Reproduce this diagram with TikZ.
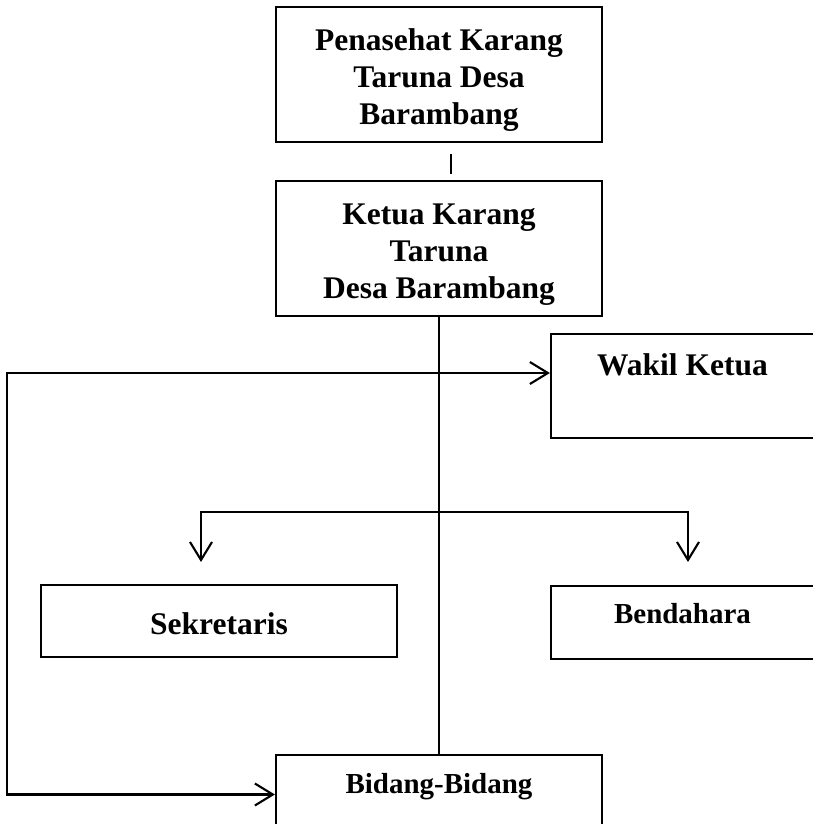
\documentclass[tikz,border=0pt]{standalone}
\usepackage{fontspec}
\setmainfont{Liberation Serif}
\usepackage{tikz}
\usetikzlibrary{arrows.meta, positioning, calc}
\tikzstyle{arrow} = [line width=1.5pt,->,>={Straight Barb[length=0.45cm,width=0.55cm]}]
\tikzstyle{garis} = [line width=1.5pt]
\tikzstyle{jabatan} = [rectangle, draw=black, line width=1.5pt, inner sep=0pt, align=center, font=\bfseries\fontsize{22.4pt}{26.2pt}\selectfont]
\tikzstyle{jabatankecil} = [jabatan, font=\bfseries\fontsize{20.6pt}{24pt}\selectfont]
\newcommand{\naik}{\rule{0pt}{23pt}}

\begin{document}
\begin{tikzpicture}[x=0.025cm, y=-0.025cm]
    \useasboundingbox (0,0) rectangle (812,824);

    % Boxes
    \node[jabatan, minimum width=8.15cm, minimum height=3.375cm] (penasehat) at (439,74.5) {\naik Penasehat Karang\\Taruna Desa\\Barambang};
    \node[jabatan, minimum width=8.15cm, minimum height=3.375cm, below=0.925cm of penasehat] (ketua) {\naik Ketua Karang\\Taruna\\Desa Barambang};
    \node[jabatan, anchor=base, minimum width=6.575cm, text height=1.025cm, text depth=1.575cm] (wakil) at (682.5,375) {Wakil Ketua};
    \node[jabatan, anchor=base, minimum width=8.9cm, text height=1.225cm, text depth=0.575cm] (sekretaris) at (219,634) {Sekretaris};
    \node[jabatankecil, anchor=base, minimum width=6.575cm, text height=0.925cm, text depth=0.9cm] (bendahara) at (682.5,623) {Bendahara};
    \node[jabatankecil, anchor=base, minimum width=8.15cm, text height=0.95cm, text depth=1.025cm] (bidang) at (439,793) {Bidang-Bidang};

    % Free ends
    \coordinate (sudut) at (7,373);
    \coordinate (cabangkiri) at (201,512);
    \coordinate (cabangkanan) at (688,512);
    \coordinate (ujungsek) at (201,562);
    \coordinate (ujungben) at (688,562);

    % Lines
    \draw[garis] ($(penasehat.south)+(12,11)$) -- ++(0,20);
    \draw[garis] (ketua.south) -- (bidang.north);
    \draw[arrow, <->] (sudut -| wakil.west) -- (sudut) |- (bidang.west);
    \draw[arrow, <->] (ujungsek) -- (cabangkiri) -- (cabangkanan) -- (ujungben);

\end{tikzpicture}
\end{document}
